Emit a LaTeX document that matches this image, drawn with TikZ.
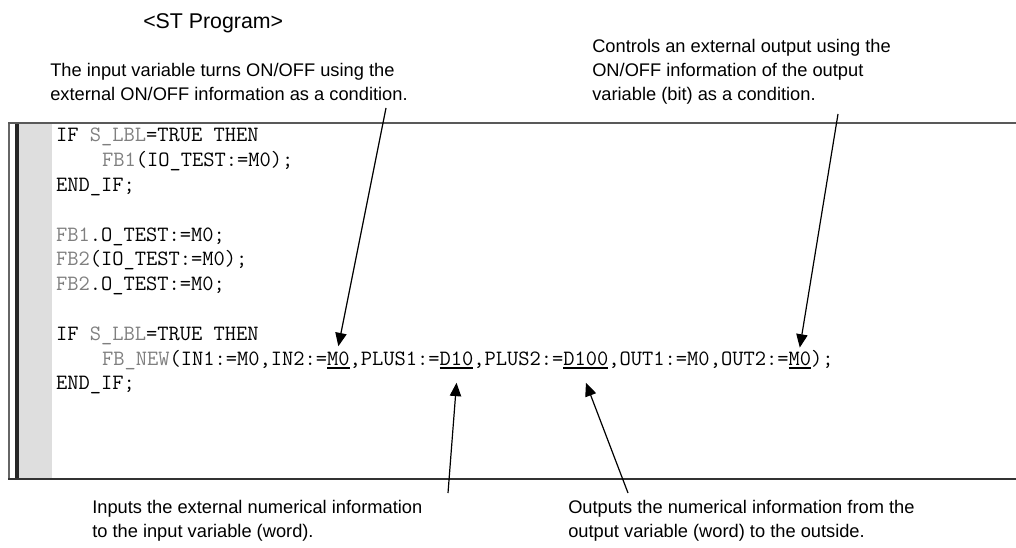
\documentclass[tikz,border=0pt]{standalone}
\usepackage{fontspec}
\setsansfont{Liberation Sans}
\usetikzlibrary{arrows.meta}
\definecolor{gutter}{HTML}{DEDEDE}
\definecolor{kw}{HTML}{7F7F7F}
\newcommand{\kw}[1]{\textcolor{kw}{#1}}

\begin{document}
\begin{tikzpicture}[x=0.75pt, y=-0.75pt,
  note/.style={font=\fontsize{13.7}{18}\sffamily, align=left, inner sep=0pt, anchor=north west},
  code/.style={font=\fontsize{16.39}{18}\ttfamily\addfontfeatures{FakeBold=0.8}, inner sep=0pt, outer sep=0pt, anchor=base west},
  pointer/.style={-{Triangle[length=10pt,width=8.5pt]}, line width=0.9pt},
  uline/.style={line width=1.5pt}]
\useasboundingbox (0,0) rectangle (1016,548);

\node [font=\fontsize{16}{18}\sffamily, inner sep=0pt, anchor=base west] (title) at (143,29) {<ST Program>};

% editor window
\fill [gutter] (19,123) rectangle (52,479);
\fill [black!85] (15,123) rectangle (19,479);
\draw [black!60, line width=1.2pt] (9,123) -- (9,479);
\draw [black!65, line width=1.2pt] (8,123) -- (1016,123);
\draw [black!80, line width=1pt] (8,479) -- (1016,479);

\node [code] (c0) at (56,142) {IF \kw{S\_LBL}=TRUE THEN};
\node [code] (c1) at (102,166.8) {\kw{FB1}(IO\_TEST:=M0);};
\node [code] (c2) at (56,191.6) {END\_IF;};
\node [code] (c4) at (56,241.2) {\kw{FB1}.O\_TEST:=M0;};
\node [code] (c5) at (56,266) {\kw{FB2}(IO\_TEST:=M0);};
\node [code] (c6) at (56,290.8) {\kw{FB2}.O\_TEST:=M0;};
\node [code] (c8) at (56,340.4) {IF \kw{S\_LBL}=TRUE THEN};
\node [code] (c9) at (102,365.2) {\kw{FB\_NEW}(IN1:=M0,IN2:=};
\node [code] (in2) at (c9.base east) {M0};
\node [code] (c9b) at (in2.base east) {,PLUS1:=};
\node [code] (plus1) at (c9b.base east) {D10};
\node [code] (c9c) at (plus1.base east) {,PLUS2:=};
\node [code] (plus2) at (c9c.base east) {D100};
\node [code] (c9d) at (plus2.base east) {,OUT1:=M0,OUT2:=};
\node [code] (out2) at (c9d.base east) {M0};
\node [code] (c9e) at (out2.base east) {);};
\node [code] (c10) at (56,390) {END\_IF;};

\foreach \t in {in2,plus1,plus2,out2}
  \draw [uline] ([yshift=-2.4pt]\t.base west) -- ([yshift=-2.4pt]\t.base east);

% remarks
\node [note] (inbit) at (50,62.7) {The input variable turns ON/OFF using the\\external ON/OFF information as a condition.};
\node [note] (outbit) at (592,38.7) {Controls an external output using the\\ON/OFF information of the output\\variable (bit) as a condition.};
\node [note] (inword) at (92,500) {Inputs the external numerical information\\to the input variable (word).};
\node [note] (outword) at (568,500) {Outputs the numerical information from the\\output variable (word) to the outside.};

\coordinate (t1) at (386,108);
\coordinate (t2) at (448,493);
\coordinate (t3) at (628,493);
\coordinate (t4) at (838,114);

\draw [pointer] (t1) -- ([yshift=4pt]in2.north);
\draw [pointer] (t2) -- ([yshift=-13pt]plus1.south);
\draw [pointer] (t3) -- ([yshift=-13pt]plus2.south);
\draw [pointer] (t4) -- ([yshift=3pt]out2.north);
\end{tikzpicture}
\end{document}
